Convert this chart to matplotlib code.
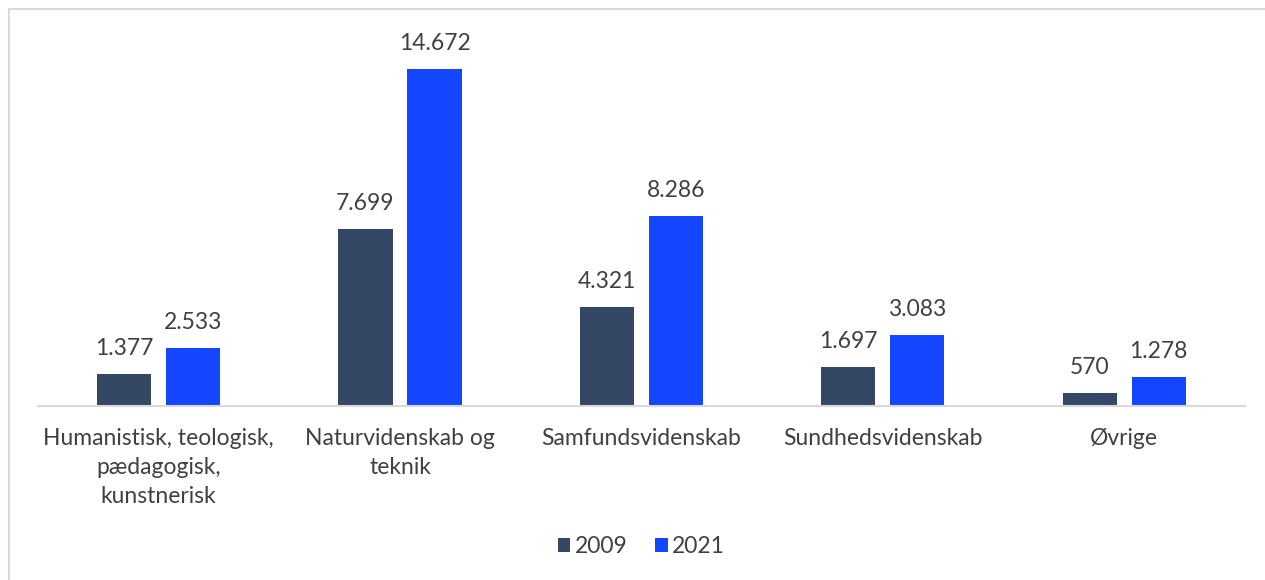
import matplotlib.pyplot as plt
import matplotlib.patches as mpatches
import numpy as np

categories = ["Humanistisk, teologisk,\npædagogisk,\nkunstnerisk",
              "Naturvidenskab og\nteknik",
              "Samfundsvidenskab",
              "Sundhedsvidenskab",
              "Øvrige"]
v2009 = [1377, 7699, 4321, 1697, 570]
v2021 = [2533, 14672, 8286, 3083, 1278]

c2009 = "#344764"
c2021 = "#1446ff"
txt = "#404040"

plt.rcParams['font.family'] = ['Lato', 'DejaVu Sans']

fig = plt.figure(figsize=(12.65, 5.80), dpi=100)
ax = fig.add_axes([0.030, 0.30, 0.954, 0.634])

x = np.arange(len(categories))
w = 0.224
off = 0.143
b1 = ax.bar(x - off, v2009, w, color=c2009, label="2009")
b2 = ax.bar(x + off, v2021, w, color=c2021, label="2021")

def fmt(v):
    return "{:,}".format(v).replace(",", ".")

for bars, vals in ((b1, v2009), (b2, v2021)):
    for b, v in zip(bars, vals):
        ax.text(b.get_x() + b.get_width() / 2, v + 650, fmt(v),
                ha="center", va="bottom", fontsize=16.5, color=txt)

ax.set_xlim(-0.5, 4.5)
ax.set_ylim(0, 16000)
ax.set_yticks([])
ax.set_xticks(x)
ax.set_xticklabels(categories, fontsize=16.5, color=txt, linespacing=1.45)
ax.tick_params(axis="x", length=0, pad=16)
for s in ["top", "right", "left"]:
    ax.spines[s].set_visible(False)
ax.spines["bottom"].set_color("#d9d9d9")
ax.spines["bottom"].set_linewidth(1.5)

ax.legend(loc="center", bbox_to_anchor=(0.5, -0.383), ncol=2, frameon=False,
          fontsize=16.5, handlelength=0.55, handleheight=0.55, handletextpad=0.2,
          columnspacing=1.2, labelcolor=txt)

fig.patches.append(mpatches.Rectangle((9 / 1265, -0.1), 1.2, 1 - 9 / 580 + 0.1,
                                      transform=fig.transFigure, fill=False,
                                      edgecolor="#d9d9d9", linewidth=1.5))

fig.savefig("out.png", dpi=100)
